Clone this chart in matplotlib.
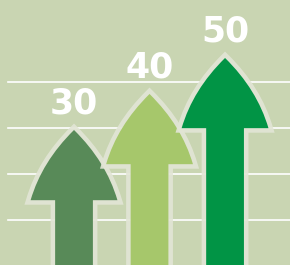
import matplotlib
matplotlib.use("Agg")
import matplotlib.pyplot as plt
from matplotlib.path import Path
from matplotlib.patches import PathPatch

# data
categories = ["A", "B", "C"]
values = [30, 40, 50]
colors = ["#588a58", "#a6c76b", "#019445"]
grid_levels = [5.0, 17.8, 30.6, 43.3]

BG = "#c9d5b2"
EDGE = "#e2e5d5"
HEAD_W, SHAFT_W, HEAD_H = 1.15, 0.5, 19.5
BOTTOM = -20


def arrow_path(c, tip):
    base = tip - HEAD_H
    ctl_dx, ctl_y = 0.37 * HEAD_W, base + 0.55 * HEAD_H
    verts = [(c - SHAFT_W / 2, BOTTOM), (c - SHAFT_W / 2, base), (c - HEAD_W / 2, base),
             (c - ctl_dx, ctl_y), (c, tip),
             (c + ctl_dx, ctl_y), (c + HEAD_W / 2, base),
             (c + SHAFT_W / 2, base), (c + SHAFT_W / 2, BOTTOM), (0, 0)]
    codes = [Path.MOVETO, Path.LINETO, Path.LINETO, Path.CURVE3, Path.CURVE3,
             Path.CURVE3, Path.CURVE3, Path.LINETO, Path.LINETO, Path.CLOSEPOLY]
    return Path(verts, codes)


fig = plt.figure(figsize=(2.9, 2.65), dpi=100, facecolor=BG)
ax = fig.add_axes([0, 0, 1, 1])
ax.set_facecolor(BG)
ax.set_xlim(-0.98, 2.86)
ax.set_ylim(-7.5, 66.1)
ax.axis("off")

for g in grid_levels:
    ax.axhline(g, xmin=0.028, color="white", lw=1.2, zorder=1)

for i, (v, col) in enumerate(zip(values, colors)):
    p = arrow_path(i, v)
    ax.add_patch(PathPatch(p, facecolor=EDGE, edgecolor=EDGE, lw=6.5, alpha=0.92,
                           joinstyle="miter", zorder=2 + i * 2))
    ax.add_patch(PathPatch(p, facecolor=col, edgecolor="none", zorder=3 + i * 2))
    ax.annotate(str(v), (i, v), xytext=(0, 19), textcoords="offset points",
                ha="center", va="center", fontsize=25, fontweight="bold",
                family="DejaVu Sans", color="white", zorder=10)

fig.savefig("out.png", dpi=100, facecolor=BG)
